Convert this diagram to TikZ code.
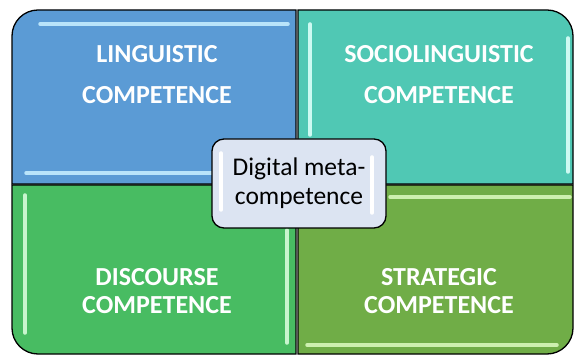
\documentclass[tikz,border=0pt]{standalone}
\usepackage{fontspec}
\setmainfont{Carlito}
\usetikzlibrary{positioning}
\definecolor{lingblue}{RGB}{91,155,213}
\definecolor{lingshine}{RGB}{185,228,250}
\definecolor{socioteal}{RGB}{80,200,180}
\definecolor{socioshine}{RGB}{205,250,242}
\definecolor{discgreen}{RGB}{72,188,98}
\definecolor{discshine}{RGB}{200,245,205}
\definecolor{stratgreen}{RGB}{112,173,71}
\definecolor{stratshine}{RGB}{205,240,175}
\definecolor{metagray}{RGB}{220,228,242}
\tikzset{
    quad/.style={draw=black, line width=1.3pt},
    shine/.style={line width=3.5pt, line cap=round},
    toplabel/.style={text=white, font=\bfseries\fontsize{26}{41}\selectfont, align=center, anchor=base},
    botlabel/.style={text=white, font=\bfseries\fontsize{26}{28}\selectfont, align=center, anchor=base},
    metabox/.style={draw=black, line width=1.3pt, fill=metagray, rounded corners=12pt,
        minimum width=174pt, minimum height=89pt, align=center, font=\fontsize{25.5}{29}\selectfont}
}

\begin{document}
\begin{tikzpicture}[x=1pt, y=1pt]
\useasboundingbox (0,0) rectangle (575,356);

% Quadrant 1 - Linguistic
\draw[quad, fill=lingblue] (12,172) -- (12,320) arc[start angle=180, end angle=90, radius=26] -- (296,346) -- (296,172) -- cycle;
\draw[shine, lingshine] (40,332) -- (288,332);
\draw[shine, lingshine] (26,183) -- (240,183);
\node[toplabel] (ling) at (157,252) {LINGUISTIC\\COMPETENCE};

% Quadrant 2 - Sociolinguistic
\draw[quad, fill=socioteal] (298,172) -- (298,346) -- (547,346) arc[start angle=90, end angle=0, radius=26] -- (573,172) -- cycle;
\draw[shine, socioshine] (310,332) -- (310,221);
\draw[shine, socioshine] (568,318) -- (568,184);
\node[toplabel] (socio) at (439,252) {SOCIOLINGUISTIC\\COMPETENCE};

% Quadrant 3 - Discourse
\draw[quad, fill=discgreen] (12,171) -- (12,28) arc[start angle=180, end angle=270, radius=26] -- (296,2) -- (296,171) -- cycle;
\draw[shine, discshine] (25,161) -- (25,23);
\draw[shine, discshine] (287,126) -- (287,13);
\node[botlabel] (disc) at (157,43) {DISCOURSE\\COMPETENCE};

% Quadrant 4 - Strategic
\draw[quad, fill=stratgreen] (298,171) -- (298,2) -- (547,2) arc[start angle=270, end angle=360, radius=26] -- (573,171) -- cycle;
\draw[shine, stratshine] (390,159) -- (570,159);
\draw[shine, stratshine] (307,11) -- (557,11);
\node[botlabel] (strat) at (439,43) {STRATEGIC\\COMPETENCE};

% Centre box
\node[metabox] (meta) at (299,172.5) {Digital meta-\\competence};
\draw[shine, white] (221,203) -- (221,146);
\draw[shine, white] (372,199) -- (372,143);

\end{tikzpicture}
\end{document}
